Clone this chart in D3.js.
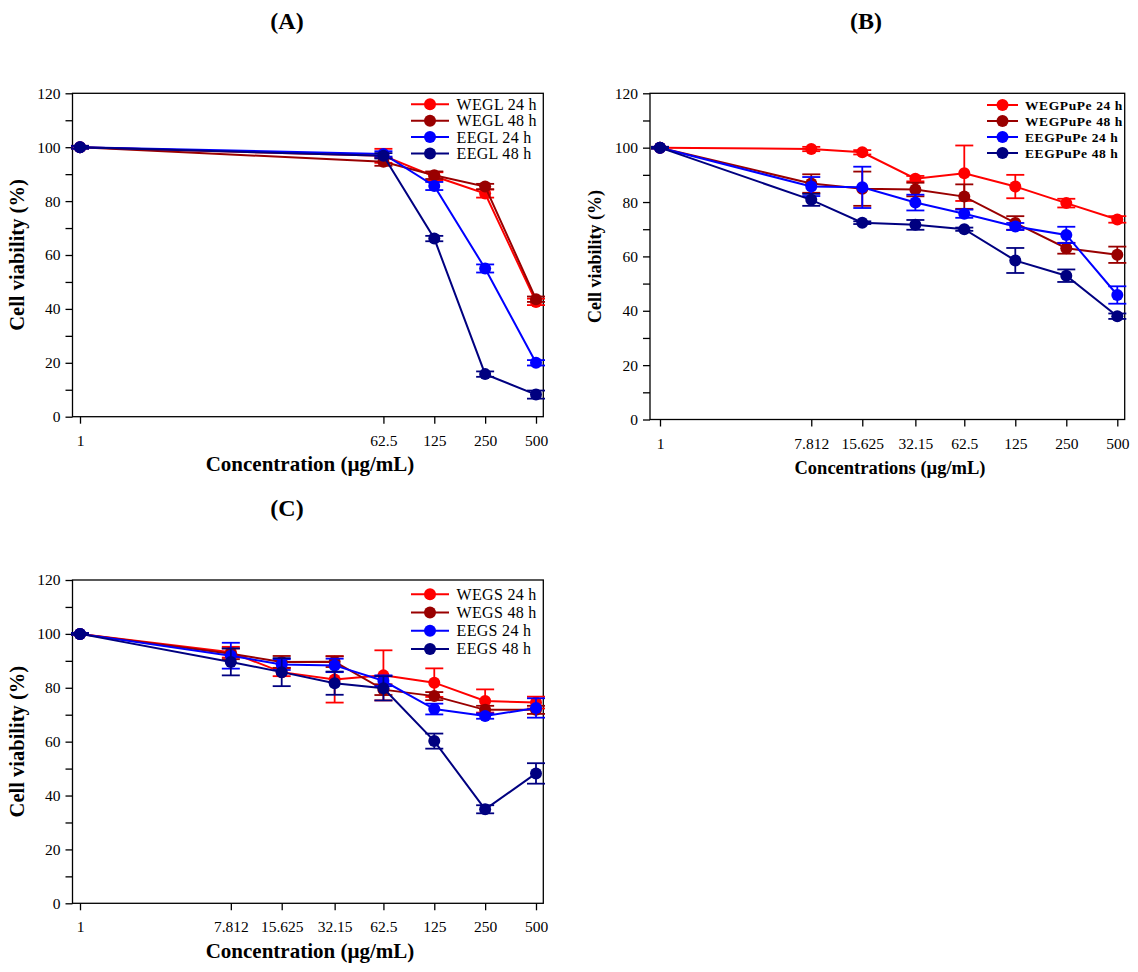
<!DOCTYPE html>
<html>
<head>
<meta charset="utf-8">
<script src="https://cdn.jsdelivr.net/npm/d3@7"></script>
<style>
  body { margin: 0; background: #fff; }
  svg { display: block; }
  text { font-family: "Liberation Serif", "Times New Roman", serif; }
</style>
</head>
<body>
<div id="chart"></div>
<script>
// concentrations (x) and tick labels
var concA = [1, 62.5, 125, 250, 500];
var concB = [1, 7.812, 15.625, 32.15, 62.5, 125, 250, 500];
var concC = [1, 7.812, 15.625, 32.15, 62.5, 125, 250, 500];
var tickLabelsA = ["1", "62.5", "125", "250", "500"];
var tickLabelsB = ["1", "7.812", "15.625", "32.15", "62.5", "125", "250", "500"];
var tickLabelsC = ["1", "7.812", "15.625", "32.15", "62.5", "125", "250", "500"];
var yTicks = [0, 10, 20, 30, 40, 50, 60, 70, 80, 90, 100, 110, 120];
var yLabels = [0, 20, 40, 60, 80, 100, 120];

// (A) leaves
var wegl24 = [100, 96.8, 89.2, 82.8, 42.6];
var wegl24Err = [0.5, 2.6, 1.5, 1.5, 1.2];
var wegl48 = [100, 94.6, 89.6, 85.4, 43.6];
var wegl48Err = [0.5, 1.5, 1.4, 1.0, 1.0];
var eegl24 = [100, 97.5, 85.6, 55.0, 20.0];
var eegl24Err = [0.5, 1.0, 1.5, 1.5, 1.0];
var eegl48 = [100, 96.8, 66.1, 15.8, 8.2];
var eegl48Err = [0.5, 1.0, 1.0, 1.0, 1.5];

// (B) pulp & peel
var wegpupe24 = [100, 99.5, 98.3, 88.6, 90.6, 85.7, 79.6, 73.6];
var wegpupe24Err = [0.3, 0.8, 0.8, 1.0, 10.2, 4.3, 1.6, 1.2];
var wegpupe48 = [100, 86.8, 84.9, 84.6, 82.0, 72.3, 63.0, 60.6];
var wegpupe48Err = [0.3, 3.4, 6.3, 2.5, 4.5, 2.5, 2.0, 3.0];
var eegpupe24 = [100, 85.7, 85.4, 79.8, 75.7, 71.0, 67.9, 45.8];
var eegpupe24Err = [0.3, 3.5, 7.6, 2.9, 1.5, 1.3, 3.0, 3.2];
var eegpupe48 = [100, 80.8, 72.4, 71.6, 70.0, 58.5, 52.9, 38.0];
var eegpupe48Err = [0.3, 2.2, 0.5, 1.8, 0.6, 4.6, 2.3, 1.0];

// (C) seeds
var wegs24 = [100, 93.2, 85.8, 83.1, 84.6, 81.9, 75.1, 74.5];
var wegs24Err = [0.3, 2.0, 1.5, 8.6, 9.3, 5.3, 4.3, 2.2];
var wegs48 = [100, 92.6, 89.6, 89.7, 79.3, 76.9, 71.8, 71.8];
var wegs48Err = [0.3, 2.0, 2.2, 2.0, 2.0, 1.5, 1.5, 1.5];
var eegs24 = [100, 91.9, 88.6, 88.3, 82.6, 72.1, 69.5, 72.5];
var eegs24Err = [0.3, 4.8, 2.0, 2.5, 2.0, 2.0, 1.0, 3.6];
var eegs48 = [100, 89.6, 85.8, 81.7, 79.8, 60.2, 34.9, 48.2];
var eegs48Err = [0.3, 5.0, 5.2, 4.3, 4.5, 2.8, 1.5, 3.8];

var colors = ["#ff0000", "#990000", "#0000ff", "#000080"];

var svg = d3.select("#chart")
  .append("svg")
    .attr("width", 1138)
    .attr("height", 972);

function drawPanel(p) {
  var g = svg.append("g");

  var x = d3.scaleLog()
      .domain([1, 500])
      .range([p.x1, p.x500]);
  var y = d3.scaleLinear()
      .domain([0, 120])
      .range([p.bottom, p.top]);

  // y axis
  var yAxis = d3.axisLeft(y)
      .tickValues(yTicks)
      .tickSize(7)
      .tickPadding(5)
      .tickFormat(function(d) { return yLabels.indexOf(d) >= 0 ? d : ""; });
  var ya = g.append("g")
      .attr("transform", "translate(" + p.left + ",0)")
      .call(yAxis);
  ya.select(".domain").remove();
  ya.selectAll("line").attr("stroke-width", 1.3);
  ya.selectAll("text").attr("font-size", 15.5).attr("font-family", "Liberation Serif");

  // x axis
  var xAxis = d3.axisBottom(x)
      .tickValues(p.conc)
      .tickSize(7)
      .tickPadding(11)
      .tickFormat(function(d, i) { return p.tickLabels[i]; });
  var xa = g.append("g")
      .attr("transform", "translate(0," + p.bottom + ")")
      .call(xAxis);
  xa.select(".domain").remove();
  xa.selectAll("line").attr("stroke-width", 1.3);
  xa.selectAll("text").attr("font-size", 15.5).attr("font-family", "Liberation Serif");

  // frame
  g.append("rect")
      .attr("x", p.left)
      .attr("y", p.top)
      .attr("width", p.right - p.left)
      .attr("height", p.bottom - p.top)
      .attr("fill", "none")
      .attr("stroke", "#000")
      .attr("stroke-width", 1.3);

  var line = d3.line()
      .x(function(d) { return x(d.c); })
      .y(function(d) { return y(d.v); });

  p.series.forEach(function(s, k) {
    var pts = p.conc.map(function(c, i) { return {c: c, v: s.mean[i], e: s.err[i]}; });
    var col = colors[k];
    var sg = g.append("g");

    sg.append("path")
        .datum(pts)
        .attr("d", line)
        .attr("fill", "none")
        .attr("stroke", col)
        .attr("stroke-width", 2);

    var eb = sg.selectAll(".eb")
      .data(pts)
      .enter().append("g");
    eb.append("line")
        .attr("x1", function(d) { return x(d.c); })
        .attr("x2", function(d) { return x(d.c); })
        .attr("y1", function(d) { return y(d.v - d.e); })
        .attr("y2", function(d) { return y(d.v + d.e); })
        .attr("stroke", col).attr("stroke-width", 1.8);
    [-1, 1].forEach(function(sign) {
      eb.append("line")
          .attr("x1", function(d) { return x(d.c) - 9; })
          .attr("x2", function(d) { return x(d.c) + 9; })
          .attr("y1", function(d) { return y(d.v + sign * d.e); })
          .attr("y2", function(d) { return y(d.v + sign * d.e); })
          .attr("stroke", col).attr("stroke-width", 1.8);
    });

    sg.selectAll("circle")
      .data(pts)
      .enter().append("circle")
        .attr("cx", function(d) { return x(d.c); })
        .attr("cy", function(d) { return y(d.v); })
        .attr("r", 6)
        .attr("fill", col);

    // legend row
    var ly = p.legend.y + k * p.legend.dy;
    g.append("line")
        .attr("x1", p.legend.x1).attr("x2", p.legend.x2)
        .attr("y1", ly).attr("y2", ly)
        .attr("stroke", col).attr("stroke-width", 2);
    g.append("circle")
        .attr("cx", (p.legend.x1 + p.legend.x2) / 2)
        .attr("cy", ly)
        .attr("r", 6)
        .attr("fill", col);
    g.append("text")
        .attr("x", p.legend.tx)
        .attr("y", ly)
        .attr("dy", "0.34em")
        .attr("font-size", p.legend.size)
        .attr("font-weight", p.legend.bold ? "bold" : "normal")
        .attr("letter-spacing", p.legend.bold ? 0.6 : 0.3)
        .text(s.name);
  });

  // titles
  g.append("text")
      .attr("x", p.titleX)
      .attr("y", p.top - 64.5)
      .attr("text-anchor", "middle")
      .attr("font-size", 24)
      .attr("font-weight", "bold")
      .text(p.title);

  g.append("text")
      .attr("x", p.xLabelX)
      .attr("y", p.bottom + 54.5)
      .attr("text-anchor", "middle")
      .attr("font-size", p.xLabelSize)
      .attr("font-weight", "bold")
      .text(p.xLabel);

  g.append("text")
      .attr("transform", "translate(" + p.yLabelX + "," + ((p.top + p.bottom) / 2) + ") rotate(-90)")
      .attr("text-anchor", "middle")
      .attr("font-size", p.labelSize)
      .attr("font-weight", "bold")
      .text("Cell viability (%)");
}

drawPanel({
  title: "(A)", titleX: 287,
  left: 72.5, right: 543.3, top: 93.3, bottom: 416.7, x1: 80, x500: 536,
  conc: concA, tickLabels: tickLabelsA,
  xLabel: "Concentration (\u00b5g/mL)", xLabelX: 310, yLabelX: 24, labelSize: 20.5, xLabelSize: 21,
  legend: {x1: 411, x2: 449, tx: 456.6, y: 104.3, dy: 16.4, size: 16, bold: false},
  series: [
    {name: "WEGL 24 h", mean: wegl24, err: wegl24Err},
    {name: "WEGL 48 h", mean: wegl48, err: wegl48Err},
    {name: "EEGL 24 h", mean: eegl24, err: eegl24Err},
    {name: "EEGL 48 h", mean: eegl48, err: eegl48Err}
  ]
});

drawPanel({
  title: "(B)", titleX: 866,
  left: 650, right: 1124.7, top: 93.3, bottom: 419.5, x1: 660, x500: 1117.3,
  conc: concB, tickLabels: tickLabelsB,
  xLabel: "Concentrations (\u00b5g/mL)", xLabelX: 890, yLabelX: 601, labelSize: 18, xLabelSize: 18.5,
  legend: {x1: 987, x2: 1018, tx: 1025, y: 105, dy: 16, size: 13.5, bold: true},
  series: [
    {name: "WEGPuPe 24 h", mean: wegpupe24, err: wegpupe24Err},
    {name: "WEGPuPe 48 h", mean: wegpupe48, err: wegpupe48Err},
    {name: "EEGPuPe 24 h", mean: eegpupe24, err: eegpupe24Err},
    {name: "EEGPuPe 48 h", mean: eegpupe48, err: eegpupe48Err}
  ]
});

drawPanel({
  title: "(C)", titleX: 287,
  left: 72.5, right: 543.3, top: 580, bottom: 903.3, x1: 80, x500: 536,
  conc: concC, tickLabels: tickLabelsC,
  xLabel: "Concentration (\u00b5g/mL)", xLabelX: 310, yLabelX: 24, labelSize: 20.5, xLabelSize: 21,
  legend: {x1: 411, x2: 449, tx: 456.6, y: 594.3, dy: 18.2, size: 16, bold: false},
  series: [
    {name: "WEGS 24 h", mean: wegs24, err: wegs24Err},
    {name: "WEGS 48 h", mean: wegs48, err: wegs48Err},
    {name: "EEGS 24 h", mean: eegs24, err: eegs24Err},
    {name: "EEGS 48 h", mean: eegs48, err: eegs48Err}
  ]
});
</script>
</body>
</html>
